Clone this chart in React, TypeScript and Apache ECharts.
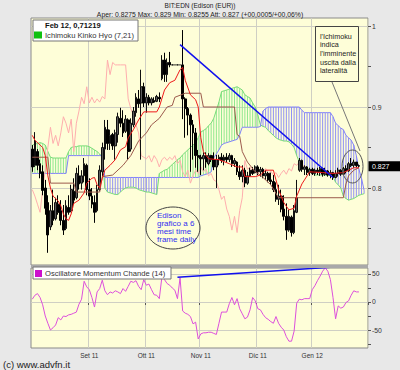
import React, { useEffect, useRef } from 'react';
import * as echarts from 'echarts';

// ---- data -------------------------------------------------------------
const N = 130; // trading-day slots on the x axis (price + small cloud projection)
const categories = Array.from({ length: N }, (_, i) => String(i));
const monthIdx = [22, 44, 65, 87, 108];
const monthLabels = ['Set 11', 'Ott 11', 'Nov 11', 'Dic 11', 'Gen 12'];

const open = [
  0.848, 0.828, 0.845, 0.830, 0.820, 0.800, 0.782, 0.752, 0.772, 0.762,
  0.780, 0.772, 0.760, 0.750, 0.776, 0.772, 0.796, 0.788, 0.815, 0.806,
  0.815, 0.828, 0.798, 0.790, 0.782, 0.772, 0.798, 0.820, 0.848, 0.872,
  0.855, 0.866, 0.852, 0.866, 0.886, 0.880, 0.870, 0.884, 0.848, 0.878,
  0.893, 0.910, 0.905, 0.925, 0.905, 0.912, 0.905, 0.908, 0.907, 0.912,
  0.935, 0.958, 0.940, 0.955, 0.952, 0.952, 0.952, 0.952, 0.952, 0.910,
  0.898, 0.890, 0.878, 0.868, 0.840, 0.838, 0.836, 0.840, 0.830, 0.840,
  0.835, 0.826, 0.835, 0.838, 0.834, 0.838, 0.835, 0.840, 0.830, 0.832,
  0.820, 0.814, 0.822, 0.806, 0.815, 0.822, 0.819, 0.826, 0.820, 0.823,
  0.815, 0.818, 0.810, 0.808, 0.798, 0.786, 0.790, 0.774, 0.765, 0.748,
  0.764, 0.745, 0.770, 0.822, 0.834, 0.823, 0.826, 0.819, 0.823, 0.818,
  0.822, 0.820, 0.824, 0.817, 0.821, 0.816, 0.819, 0.813, 0.818, 0.822,
  0.817, 0.824, 0.821, 0.830, 0.828, 0.832, 0.8275,
];
const high = [
  0.853, 0.869, 0.848, 0.835, 0.828, 0.810, 0.791, 0.779, 0.798, 0.788,
  0.791, 0.785, 0.779, 0.785, 0.791, 0.804, 0.812, 0.825, 0.828, 0.822,
  0.837, 0.830, 0.812, 0.800, 0.791, 0.804, 0.828, 0.856, 0.884, 0.884,
  0.872, 0.868, 0.872, 0.893, 0.899, 0.896, 0.890, 0.886, 0.886, 0.900,
  0.917, 0.921, 0.946, 0.930, 0.917, 0.915, 0.912, 0.912, 0.915, 0.918,
  0.964, 0.967, 0.960, 0.968, 0.952, 0.952, 0.952, 0.952, 0.995, 0.912,
  0.900, 0.892, 0.884, 0.874, 0.847, 0.841, 0.844, 0.844, 0.843, 0.841,
  0.844, 0.841, 0.841, 0.843, 0.841, 0.843, 0.843, 0.841, 0.837, 0.833,
  0.828, 0.828, 0.825, 0.820, 0.825, 0.826, 0.828, 0.828, 0.826, 0.825,
  0.822, 0.820, 0.819, 0.816, 0.807, 0.804, 0.798, 0.791, 0.781, 0.773,
  0.766, 0.779, 0.810, 0.837, 0.835, 0.828, 0.827, 0.825, 0.825, 0.824,
  0.825, 0.826, 0.825, 0.825, 0.822, 0.822, 0.820, 0.822, 0.825, 0.823,
  0.826, 0.828, 0.832, 0.837, 0.835, 0.832, 0.829,
];
const low = [
  0.820, 0.826, 0.822, 0.812, 0.791, 0.767, 0.720, 0.748, 0.754, 0.760,
  0.767, 0.754, 0.742, 0.748, 0.767, 0.770, 0.779, 0.786, 0.798, 0.798,
  0.807, 0.791, 0.785, 0.775, 0.757, 0.770, 0.796, 0.814, 0.835, 0.847,
  0.847, 0.847, 0.835, 0.856, 0.875, 0.863, 0.868, 0.835, 0.845, 0.875,
  0.888, 0.899, 0.835, 0.900, 0.893, 0.902, 0.902, 0.905, 0.906, 0.906,
  0.933, 0.931, 0.931, 0.949, 0.952, 0.952, 0.952, 0.952, 0.885, 0.862,
  0.865, 0.820, 0.835, 0.825, 0.820, 0.816, 0.822, 0.825, 0.828, 0.832,
  0.822, 0.800, 0.828, 0.831, 0.828, 0.832, 0.832, 0.826, 0.826, 0.816,
  0.810, 0.807, 0.801, 0.804, 0.814, 0.816, 0.818, 0.816, 0.814, 0.812,
  0.810, 0.807, 0.804, 0.795, 0.783, 0.779, 0.770, 0.760, 0.736, 0.746,
  0.740, 0.743, 0.769, 0.820, 0.820, 0.816, 0.816, 0.815, 0.816, 0.815,
  0.816, 0.815, 0.814, 0.815, 0.814, 0.812, 0.810, 0.812, 0.814, 0.815,
  0.816, 0.818, 0.820, 0.826, 0.825, 0.826, 0.8255,
];
const close = [
  0.826, 0.858, 0.828, 0.818, 0.797, 0.775, 0.742, 0.772, 0.760, 0.782,
  0.770, 0.760, 0.748, 0.778, 0.770, 0.798, 0.785, 0.818, 0.805, 0.815,
  0.830, 0.798, 0.790, 0.780, 0.770, 0.798, 0.822, 0.850, 0.875, 0.855,
  0.865, 0.852, 0.868, 0.888, 0.880, 0.868, 0.885, 0.845, 0.880, 0.895,
  0.912, 0.904, 0.925, 0.905, 0.912, 0.905, 0.910, 0.906, 0.913, 0.910,
  0.958, 0.940, 0.955, 0.952, 0.952, 0.952, 0.952, 0.952, 0.910, 0.898,
  0.890, 0.878, 0.868, 0.840, 0.838, 0.836, 0.840, 0.832, 0.840, 0.835,
  0.826, 0.835, 0.838, 0.834, 0.838, 0.835, 0.840, 0.830, 0.834, 0.820,
  0.814, 0.822, 0.806, 0.815, 0.822, 0.818, 0.826, 0.820, 0.823, 0.815,
  0.818, 0.810, 0.808, 0.798, 0.786, 0.790, 0.774, 0.765, 0.748, 0.765,
  0.745, 0.772, 0.788, 0.834, 0.823, 0.826, 0.819, 0.823, 0.818, 0.822,
  0.820, 0.824, 0.817, 0.821, 0.816, 0.819, 0.813, 0.818, 0.822, 0.817,
  0.824, 0.821, 0.830, 0.828, 0.832, 0.8275, 0.827,
];

// Ichimoku lines, read as [slot, value] points
const tenkan = [
  [0, 0.865], [1, 0.859], [3, 0.853], [4, 0.85], [5, 0.84], [6, 0.815], [7, 0.8], [8, 0.79],
  [10, 0.784], [11, 0.778], [12, 0.768], [13, 0.762], [14, 0.76], [15, 0.768], [16, 0.781],
  [18, 0.785], [20, 0.794], [21, 0.806], [23, 0.812], [24, 0.813], [25, 0.804], [26, 0.8],
  [27, 0.812], [28, 0.822], [30, 0.828], [32, 0.835], [34, 0.847], [36, 0.851], [37, 0.862],
  [39, 0.872], [41, 0.884], [43, 0.894], [48, 0.894], [49, 0.9], [51, 0.921], [53, 0.93],
  [55, 0.933], [57, 0.946], [58, 0.949], [59, 0.933], [61, 0.915], [63, 0.909], [64, 0.9],
  [65, 0.862], [66, 0.845], [68, 0.836], [72, 0.835], [76, 0.83], [79, 0.826], [81, 0.826],
  [82, 0.814], [86, 0.814], [88, 0.816], [90, 0.822], [93, 0.822], [94, 0.81], [95, 0.798],
  [97, 0.782], [99, 0.773], [101, 0.775], [102, 0.79], [104, 0.805], [105, 0.81], [107, 0.82],
  [112, 0.819], [116, 0.818], [120, 0.819], [122, 0.822], [124, 0.825], [126, 0.825],
];
const kijun = [
  [0, 0.838], [6, 0.838], [7, 0.806], [16, 0.806], [17, 0.795], [26, 0.795], [27, 0.814],
  [31, 0.816], [35, 0.828], [38, 0.84], [41, 0.858], [44, 0.868], [46, 0.878], [49, 0.886],
  [52, 0.9], [54, 0.902], [55, 0.912], [59, 0.917], [65, 0.917], [66, 0.9], [78, 0.9],
  [79, 0.866], [80, 0.864], [81, 0.845], [83, 0.832], [86, 0.82], [88, 0.816], [92, 0.804],
  [95, 0.788], [120, 0.788], [121, 0.805], [122, 0.815], [124, 0.822], [126, 0.825],
];
const CHIKOU_SHIFT = 21;

const spanA = [
  0.853, 0.854, 0.855, 0.856, 0.855, 0.853, 0.845, 0.838, 0.837, 0.837,
  0.837, 0.837, 0.837, 0.837, 0.845, 0.850, 0.851, 0.851, 0.852, 0.852,
  0.852, 0.852, 0.851, 0.849, 0.847, 0.845, 0.842, 0.838, 0.800, 0.795,
  0.794, 0.793, 0.792, 0.792, 0.795, 0.798, 0.800, 0.801, 0.801, 0.801,
  0.800, 0.798, 0.797, 0.796, 0.795, 0.795, 0.794, 0.793, 0.792, 0.818,
  0.820, 0.822, 0.823, 0.826, 0.829, 0.832, 0.835, 0.837, 0.841, 0.844,
  0.847, 0.850, 0.853, 0.856, 0.862, 0.869, 0.871, 0.873, 0.877, 0.880,
  0.886, 0.896, 0.906, 0.919, 0.920, 0.921, 0.922, 0.923, 0.924, 0.925,
  0.923, 0.921, 0.915, 0.913, 0.911, 0.905, 0.900, 0.890, 0.878, 0.876,
  0.875, 0.871, 0.868, 0.865, 0.862, 0.860, 0.859, 0.858, 0.858, 0.857,
  0.854, 0.850, 0.840, 0.832, 0.826, 0.825, 0.825, 0.822, 0.819, 0.816,
  0.816, 0.816, 0.816, 0.816, 0.816, 0.815, 0.814, 0.807, 0.804, 0.800,
  0.790, 0.787, 0.785, 0.786, 0.787, 0.789, 0.791, 0.792, 0.793,
];
const spanB = [
  0.818, 0.818, 0.818, 0.818, 0.818, 0.818, 0.818, 0.818, 0.818, 0.818,
  0.818, 0.818, 0.818, 0.818, 0.840, 0.840, 0.840, 0.840, 0.840, 0.840,
  0.840, 0.840, 0.840, 0.840, 0.840, 0.840, 0.840, 0.840, 0.813, 0.813,
  0.813, 0.813, 0.813, 0.813, 0.813, 0.813, 0.813, 0.813, 0.813, 0.813,
  0.813, 0.813, 0.813, 0.813, 0.813, 0.813, 0.813, 0.813, 0.813, 0.813,
  0.813, 0.813, 0.813, 0.813, 0.813, 0.813, 0.813, 0.813, 0.813, 0.813,
  0.813, 0.813, 0.813, 0.813, 0.813, 0.815, 0.816, 0.817, 0.818, 0.820,
  0.837, 0.842, 0.847, 0.853, 0.855, 0.856, 0.857, 0.858, 0.859, 0.860,
  0.866, 0.875, 0.875, 0.875, 0.875, 0.875, 0.875, 0.875, 0.876, 0.895,
  0.898, 0.900, 0.900, 0.900, 0.900, 0.900, 0.900, 0.900, 0.900, 0.900,
  0.900, 0.900, 0.900, 0.900, 0.896, 0.893, 0.893, 0.893, 0.893, 0.893,
  0.893, 0.893, 0.893, 0.893, 0.893, 0.893, 0.888, 0.880, 0.877, 0.874,
  0.872, 0.865, 0.862, 0.859, 0.853, 0.840, 0.823, 0.812, 0.797,
];

const momentum = [
  5, 12, 15, 8, -5, -25, -38, -50, -46, -41,
  -28, -32, -25, -26, -23, -22, -20, -18, -4, 5,
  37, 27, 22, 8, -9, 18, 24, 39, 20, 13,
  18, 16, 20, 18, 15, 24, 19, 28, 37, 35,
  38, 28, 22, 40, 30, 32, 22, 13, 12, 6,
  45, 40, 33, 30, 25, 21, 6, 43, -16, -20,
  -22, -26, -39, -36, -66, -57, -55, -55, -54, -54,
  -56, -58, -38, -18, -18, -18, -3, 8, -5, 6,
  -12, -21, -30, -27, -14, 8, 2, -12, -14, -22,
  -28, -31, -35, -38, -26, -38, -45, -50, -62, -70,
  -70, -52, -2, 5, 4, 6, 6, 6, 22, 29,
  38, 46, 55, 61, 55, 40, 8, -30, -7, -11,
  -9, -1, 2, 12, 20, 18, 18,
];

const priceTrend = [[57, 0.977], [116, 0.813]];
const momentumTrend = [[56, 44], [115, 62]];

const priceGrid = [0.8, 0.9, 1];
const priceLabels = [0.8, 0.9, 1];
const priceTicks = [0.75, 0.8, 0.85, 0.9, 0.95, 1];
const momGrid = [-50, 0, 50];
const momLabels = [-50, 0, 50];
const momTicks = [-75, -50, -25, 0, 25, 50];

// ---- layout / style ----------------------------------------------------
const FONT = '"Liberation Sans", Arial, sans-serif';
const PLOT_BG = '#fefed8';
const PAGE_BG = '#e8e8e8';
const GRID_LINE = '#cfcfc4';
const MAIN = { left: 31, top: 18, width: 337, height: 247, min: 0.704938, max: 1.009877 };
const LOWER = { left: 31, top: 268, width: 337, height: 80, min: -82.14, max: 60.71 };

const isMonth = (index: number) => monthIdx.includes(index);

export default function App() {
  const ref = useRef<HTMLDivElement>(null);

  useEffect(() => {
    if (!ref.current) return;
    const chart = echarts.init(ref.current, undefined, { renderer: 'svg' });

    const candles = open.map((o, i) => [o, close[i], low[i], high[i]]);
    const chikou = close.slice(CHIKOU_SHIFT).map((v, i) => [i, v]);
    const cloud = spanA.map((a, i) => [i, a, spanB[i]]);

    const gridLines = (vals: number[]) => ({
      silent: true,
      z: 1,
      symbol: ['none', 'none'],
      label: { show: false },
      lineStyle: { color: GRID_LINE, type: 'solid', width: 1 },
      data: vals.map((v) => ({ yAxis: v })),
    });

    const xCommon = {
      type: 'category',
      data: categories,
      boundaryGap: true,
      axisLine: { show: false },
      splitLine: { show: true, interval: isMonth, lineStyle: { color: GRID_LINE, width: 1 } },
    };

    const text = (x: number, y: number, s: string, size: number, extra: any = {}) => ({
      type: 'text',
      x,
      y,
      z: 100,
      silent: true,
      style: {
        text: s,
        fontSize: size,
        fontFamily: FONT,
        fill: '#222',
        textAlign: 'left',
        align: 'left',
        textVerticalAlign: 'middle',
        verticalAlign: 'middle',
        ...extra,
      },
    });

    const panel = (g: any) => ({
      left: g.left,
      top: g.top,
      width: g.width,
      height: g.height,
      show: true,
      backgroundColor: PLOT_BG,
      borderColor: '#8a8a8a',
      borderWidth: 1,
      outerBoundsMode: 'none',
    });

    const option: any = {
      animation: false,
      backgroundColor: PAGE_BG,
      textStyle: { fontFamily: FONT },
      grid: [panel(MAIN), panel(LOWER)],
      xAxis: [
        { ...xCommon, gridIndex: 0, axisTick: { show: false }, axisLabel: { show: false } },
        {
          ...xCommon,
          gridIndex: 1,
          axisTick: { show: true, interval: isMonth, length: 3, lineStyle: { color: '#555' } },
          axisLabel: {
            show: true,
            interval: isMonth,
            formatter: (v: string) => {
              const k = monthIdx.indexOf(Number(v));
              return k >= 0 ? monthLabels[k] : '';
            },
            fontSize: 6.5,
            fontFamily: FONT,
            color: '#333',
            margin: 4,
          },
        },
      ],
      yAxis: [
        {
          type: 'value',
          gridIndex: 0,
          position: 'right',
          min: MAIN.min,
          max: MAIN.max,
          splitLine: { show: false },
          axisLine: { show: false },
          axisTick: { show: true, length: 3, customValues: priceTicks, lineStyle: { color: '#555' } },
          axisLabel: { customValues: priceLabels, fontSize: 6.8, fontFamily: FONT, color: '#333', margin: 4 },
        },
        {
          type: 'value',
          gridIndex: 1,
          position: 'right',
          min: LOWER.min,
          max: LOWER.max,
          splitLine: { show: false },
          axisLine: { show: false },
          axisTick: { show: true, length: 3, customValues: momTicks, lineStyle: { color: '#555' } },
          axisLabel: { customValues: momLabels, fontSize: 6.8, fontFamily: FONT, color: '#333', margin: 4 },
        },
      ],
      series: [
        {
          name: 'kumo',
          type: 'custom',
          xAxisIndex: 0,
          yAxisIndex: 0,
          z: 1,
          clip: true,
          silent: true,
          data: cloud,
          encode: { x: 0, y: [1, 2] },
          renderItem: (params: any, api: any) => {
            const i = api.value(0);
            const a = api.value(1);
            const b = api.value(2);
            const p1 = api.coord([i, a]);
            const p2 = api.coord([i, b]);
            return {
              type: 'line',
              shape: { x1: p1[0], y1: p1[1], x2: p2[0], y2: p2[1] },
              style: { stroke: a >= b ? '#8fe88f' : '#9090f4', lineWidth: 1 },
            };
          },
        },
        {
          name: 'Senkou A',
          type: 'line',
          xAxisIndex: 0,
          yAxisIndex: 0,
          data: spanA,
          showSymbol: false,
          z: 2,
          silent: true,
          lineStyle: { color: '#78dc78', width: 1 },
        },
        {
          name: 'Senkou B',
          type: 'line',
          xAxisIndex: 0,
          yAxisIndex: 0,
          data: spanB,
          showSymbol: false,
          z: 2,
          silent: true,
          lineStyle: { color: '#8282fa', width: 1 },
          markLine: gridLines(priceGrid),
        },
        {
          name: 'Chikou',
          type: 'line',
          xAxisIndex: 0,
          yAxisIndex: 0,
          data: chikou,
          showSymbol: false,
          z: 2,
          silent: true,
          lineStyle: { color: '#ffaeae', width: 1 },
        },
        {
          name: 'Edison',
          type: 'candlestick',
          xAxisIndex: 0,
          yAxisIndex: 0,
          data: candles,
          barWidth: 2.2,
          z: 3,
          silent: true,
          itemStyle: {
            color: '#5c5c5c',
            color0: '#000000',
            borderColor: '#101010',
            borderColor0: '#000000',
            borderWidth: 1,
          },
        },
        {
          name: 'Kijun',
          type: 'line',
          xAxisIndex: 0,
          yAxisIndex: 0,
          data: kijun,
          showSymbol: false,
          z: 4,
          silent: true,
          lineStyle: { color: '#9c5a4c', width: 1 },
        },
        {
          name: 'Tenkan',
          type: 'line',
          xAxisIndex: 0,
          yAxisIndex: 0,
          data: tenkan,
          showSymbol: false,
          z: 4,
          silent: true,
          lineStyle: { color: '#ee1a1a', width: 1 },
        },
        {
          name: 'trend',
          type: 'line',
          xAxisIndex: 0,
          yAxisIndex: 0,
          data: priceTrend,
          showSymbol: false,
          z: 5,
          silent: true,
          lineStyle: { color: '#1010ee', width: 1.5 },
        },
        {
          name: 'CMO',
          type: 'line',
          xAxisIndex: 1,
          yAxisIndex: 1,
          data: momentum,
          showSymbol: false,
          z: 3,
          silent: true,
          lineStyle: { color: '#dc4fdc', width: 1 },
          markLine: gridLines(momGrid),
        },
        {
          name: 'CMO trend',
          type: 'line',
          xAxisIndex: 1,
          yAxisIndex: 1,
          data: momentumTrend,
          showSymbol: false,
          z: 5,
          silent: true,
          lineStyle: { color: '#1010ee', width: 1.5 },
        },
      ],
      graphic: [
        // separator between the two panels
        { type: 'rect', z: 90, silent: true, shape: { x: 31, y: 265, width: 337, height: 3 }, style: { fill: '#a9a9a9' } },
        text(200, 5.5, 'BIT:EDN (Edison (EUR))', 6.5, { textAlign: 'center', align: 'center' }),
        text(200, 14, 'Aper: 0.8275 Max: 0.829 Min: 0.8255 Att: 0.827 (+00,0005/+00,06%)', 6.8, { textAlign: 'center', align: 'center' }),
        text(3, 364, '(c) www.advfn.it', 9.5),
        // price panel legend
        { type: 'rect', z: 95, silent: true, shape: { x: 33, y: 20, width: 105, height: 21 }, style: { fill: '#ffffff', stroke: '#777', lineWidth: 1 } },
        text(45, 25.5, 'Feb 12, 0,71219', 7.6, { fontWeight: 'bold', fill: '#111' }),
        { type: 'rect', z: 100, silent: true, shape: { x: 34, y: 31.5, width: 8, height: 7 }, style: { fill: '#10c010' } },
        text(45, 35, 'Ichimoku Kinko Hyo (7,21)', 7.6, { fill: '#333' }),
        // oscillator legend
        { type: 'rect', z: 95, silent: true, shape: { x: 33, y: 267, width: 138, height: 12 }, style: { fill: '#ffffff', stroke: '#777', lineWidth: 1 } },
        { type: 'rect', z: 100, silent: true, shape: { x: 35, y: 270, width: 7, height: 7 }, style: { fill: '#cc10cc' } },
        text(45, 273.5, 'Oscillatore Momentum Chande (14)', 7.6, { fill: '#333' }),
        // note box on the right
        { type: 'rect', z: 95, silent: true, shape: { x: 315.5, y: 26.5, width: 43, height: 55 }, style: { fill: PLOT_BG, stroke: '#444', lineWidth: 1 } },
        text(320, 53.5, "l'Ichimoku\nindica\nl'imminente\nuscita dalla\nlateralità", 7.2, { fill: '#222', lineHeight: 8.6 }),
        { type: 'line', z: 96, silent: true, shape: { x1: 332, y1: 82, x2: 360, y2: 151 }, style: { stroke: '#777', lineWidth: 1 } },
        { type: 'ellipse', z: 96, silent: true, shape: { cx: 352.5, cy: 166.5, rx: 10.5, ry: 16.5 }, style: { fill: 'none', stroke: '#555', lineWidth: 1 } },
        // note ellipse in the middle
        { type: 'ellipse', z: 96, silent: true, shape: { cx: 173, cy: 228, rx: 27, ry: 21 }, style: { fill: 'none', stroke: '#444', lineWidth: 1 } },
        text(157, 227.5, 'Edison\ngrafico a 6\nmesi time\nframe daily', 8, { fill: '#3030f0', lineHeight: 8.3 }),
      ],
    };

    chart.setOption(option);

    // last-price tag on the right axis
    const last = close[close.length - 1];
    const py = chart.convertToPixel({ yAxisIndex: 0 }, last) as number;
    chart.setOption({
      graphic: [
        { id: 'tagBox', type: 'rect', z: 100, silent: true, shape: { x: 368.5, y: py - 5, width: 32, height: 10 }, style: { fill: '#000' } },
        { id: 'tagText', ...text(372, py, String(last), 7, { fill: '#fff' }) },
      ],
    });

    return () => chart.dispose();
  }, []);

  return <div ref={ref} style={{ position: 'fixed', left: 0, top: 0, width: 400, height: 370 }} />;
}
